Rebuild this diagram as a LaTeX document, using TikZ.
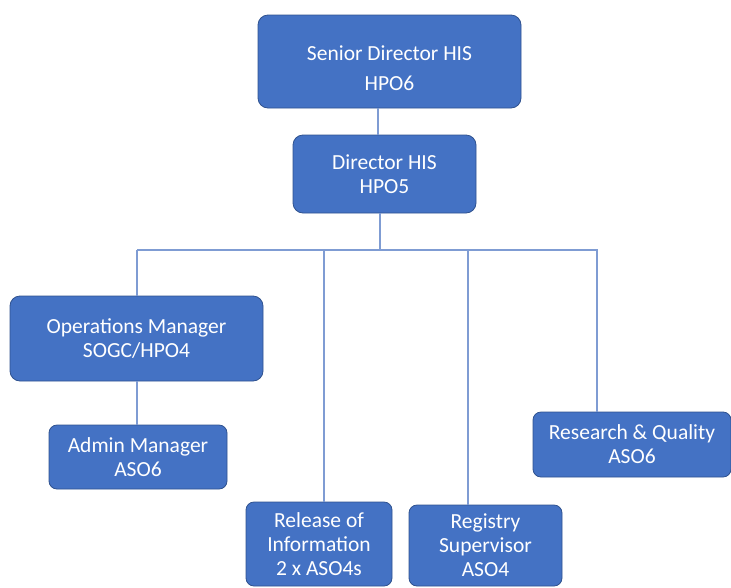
\documentclass[tikz,border=0pt]{standalone}
\usepackage{fontspec}
\setmainfont{Carlito}
\usepackage{xcolor}
\usepackage{tikz}

\definecolor{postfill}{HTML}{4472C4}
\definecolor{postedge}{HTML}{2F528F}
\definecolor{linkblue}{HTML}{7F9CD3}

\tikzset{
	post/.style={draw=postedge, line width=0.8pt, fill=postfill, text=white,
		rounded corners=10pt, align=center, inner sep=0pt,
		font=\fontsize{21.5}{24}\selectfont},
	link/.style={draw=linkblue, line width=1.4pt}
}

\begin{document}
\begin{tikzpicture}[x=1pt, y=-1pt]
		\def\busy{250}

		\useasboundingbox (0,0) rectangle (731,587);

		\node[post, minimum width=263, minimum height=93] (senior) at (389.5,61.5) {\rule{0pt}{28pt}Senior Director HIS\\[6pt]HPO6};
		\node[post, minimum width=183, minimum height=78] (director) at (384.5,174) {Director HIS\\HPO5};

		\node[post, minimum width=253, minimum height=85] (ops) at (136.5,338.5) {Operations Manager\\SOGC/HPO4};
		\node[post, minimum width=178, minimum height=64, rounded corners=8pt] (admin) at (138,457) {Admin Manager\\ASO6};
		\node[post, minimum width=146, minimum height=84, rounded corners=8pt] (rel) at (319,544) {Release of\\Information\\2 x ASO4s};
		\node[post, minimum width=153, minimum height=81, rounded corners=8pt] (reg) at (485.5,545.5) {Registry\\Supervisor\\ASO4};
		\node[post, minimum width=198, minimum height=65, rounded corners=8pt] (rq) at (632,444.5) {Research \& Quality\\ASO6};

		% bus under the director
		\coordinate (busdir) at (380,\busy);
		\coordinate (busleft) at (137,\busy);
		\coordinate (busright) at (598,\busy);

		\draw[link] (senior.south -| 378,0) -- (director.north -| 378,0);
		\draw[link] (director.south -| busdir) -- (busdir);
		\draw[link] (busleft) -- (busright);
		\draw[link] (busleft) -- (busleft |- ops.north);
		\draw[link] (ops.south -| busleft) -- (admin.north -| busleft);

		\foreach \tapx/\post in {324/rel, 468/reg, 597/rq} {
			\coordinate (tap\post) at (\tapx,\busy);
			\draw[link] (tap\post) -- (tap\post |- \post.north);
		}
	\end{tikzpicture}
\end{document}
